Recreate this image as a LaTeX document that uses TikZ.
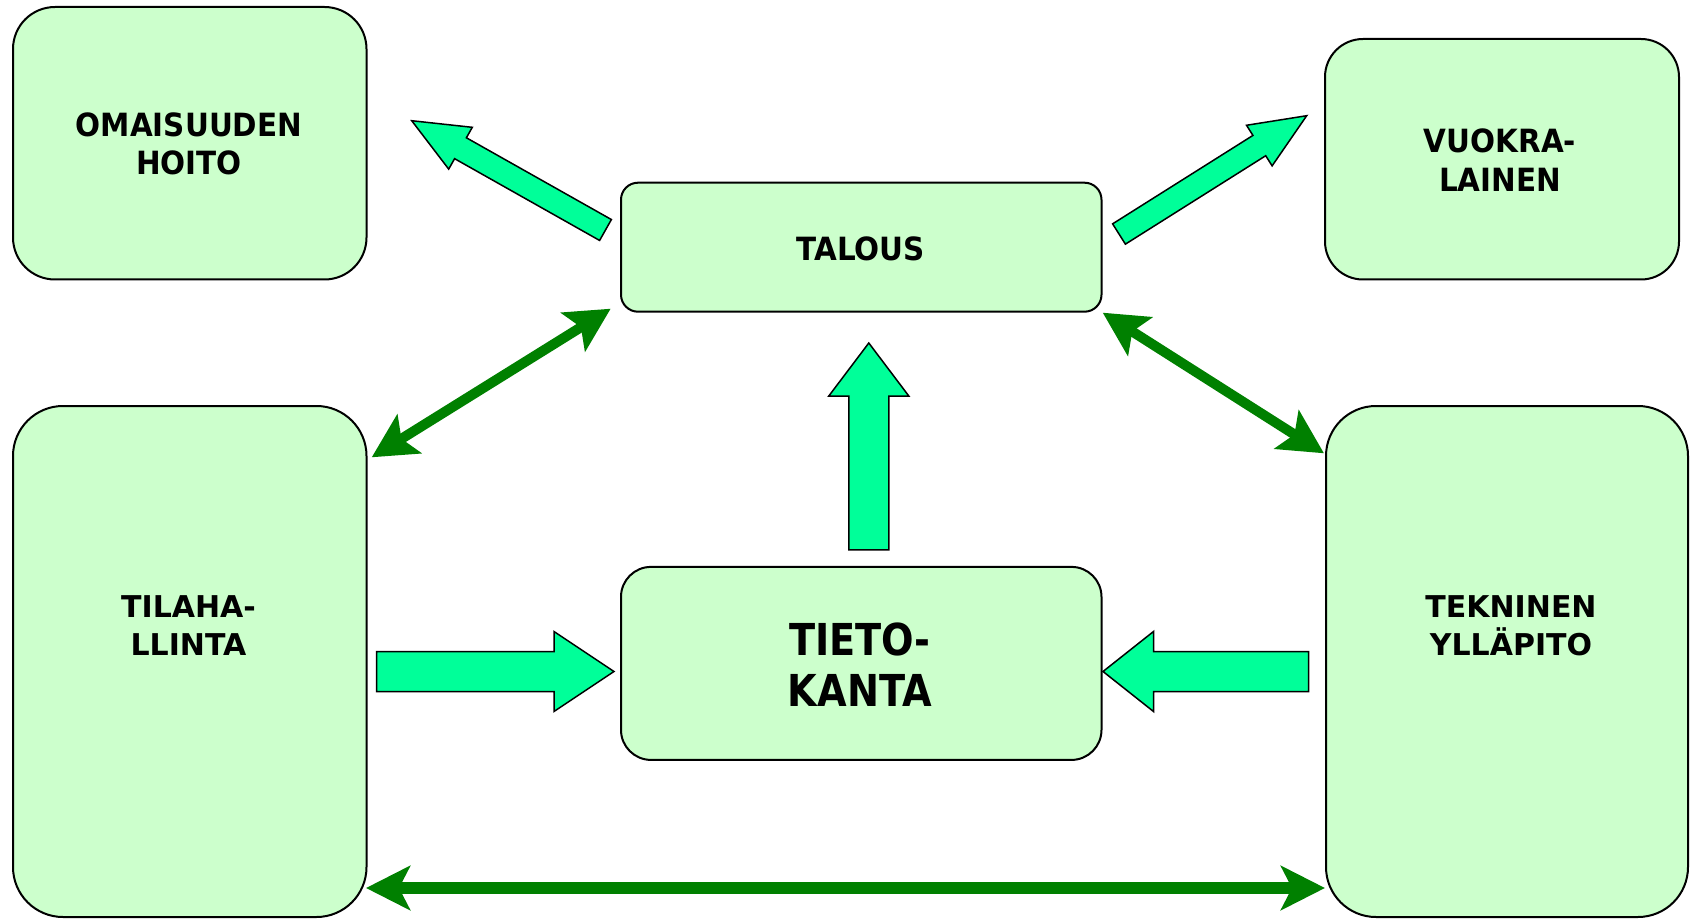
\documentclass[tikz,border=0pt]{standalone}
\usepackage{fontspec}
\setmainfont{DejaVu Sans}
\newfontfamily\narrowsans{DejaVu Sans}[FakeStretch=0.92]
\newfontfamily\narrowersans{DejaVu Sans}[FakeStretch=0.87]
\usetikzlibrary{arrows.meta,calc}

\definecolor{boxfill}{HTML}{CCFFCC}
\definecolor{flowfill}{HTML}{00FF99}
\definecolor{linkgreen}{HTML}{008000}

\tikzset{
  unit/.style={draw=black, line width=2pt, fill=boxfill, inner sep=0pt,
    rounded corners=#1pt},
  sidetext/.style={font=\bfseries\fontsize{30}{38}\selectfont, align=center, inner sep=0pt},
  toptext/.style={font=\narrowsans\bfseries\fontsize{32}{38.3}\selectfont, align=center, inner sep=0pt},
  hubtext/.style={font=\narrowersans\bfseries\fontsize{44}{51}\selectfont, align=center, inner sep=0pt},
  flow/.style={draw=black, line width=1.5pt, fill=flowfill, line join=miter},
  link/.style={draw=linkgreen, line width=10pt,
    >={Stealth[length=44pt,width=45pt,inset=9pt]}, <->},
  widelink/.style={link, line width=12pt,
    >={Stealth[length=44pt,width=44pt,inset=11pt]}},
}

% block arrow: tail, tip, half shaft width, half head width, head length
\newcommand{\flowarrow}[5]{%
  \draw[flow] let \p1=(#1), \p2=(#2),
      \n1={atan2(\y2-\y1,\x2-\x1)}, \n2={veclen(\x2-\x1,\y2-\y1)} in
    [shift={(\p1)}, rotate=\n1]
    (0pt,-#3pt) -- (\n2-#5pt,-#3pt) -- (\n2-#5pt,-#4pt) -- (\n2,0pt)
    -- (\n2-#5pt,#4pt) -- (\n2-#5pt,#3pt) -- (0pt,#3pt) -- cycle;}

\begin{document}
\begin{tikzpicture}[x=1pt,y=-1pt]
\useasboundingbox (0,0) rectangle (1690,920);

% units
\node[unit=42, minimum width=353.5pt, minimum height=272.5pt] (omai) at (189.75,143.25) {};
\node[unit=38, minimum width=354pt, minimum height=240.5pt] (vuok) at (1502,159.25) {};
\node[unit=17, minimum width=480.5pt, minimum height=129pt] (talo) at (861.25,247.2) {};
\node[unit=30, minimum width=480.5pt, minimum height=193pt] (tieto) at (861.25,663.4) {};
\node[unit=50, minimum width=353.5pt, minimum height=511pt] (tila) at (189.75,661.5) {};
\node[unit=50, minimum width=362pt, minimum height=511pt] (tekn) at (1507,661.5) {};

% captions
\node[toptext] (omai-t) at (189,144.2) {OMAISUUDEN\\HOITO};
\node[toptext] (vuok-t) at (1500,160.2) {VUOKRA-\\LAINEN};
\node[toptext] (talo-t) at (860.7,248.7) {TALOUS};
\node[hubtext] (tieto-t) at (860,665) {TIETO-\\KANTA};
\node[sidetext] (tila-t) at (188.5,625.5) {TILAHA-\\LLINTA};
\node[sidetext] (tekn-t) at (1511,625.5) {TEKNINEN\\YLLÄPITO};

% ends of the block arrows
\coordinate (fa-tail) at ($(talo.west)+(-14.5,-17.2)$);
\coordinate (fa-tip)  at ($(omai.east)+(44.2,-22.55)$);
\coordinate (fb-tail) at ($(talo.east)+(16.5,-13.2)$);
\coordinate (fb-tip)  at ($(vuok.west)+(-17.3,-43.55)$);
\coordinate (fc-tail) at ($(tieto.north)+(7.55,-16)$);
\coordinate (fc-tip)  at ($(talo.south)+(7.55,30.3)$);
\coordinate (fd-tail) at ($(tila.east)+(9,10)$);
\coordinate (fd-tip)  at ($(tieto.west)+(-6,8.1)$);
\coordinate (fe-tail) at ($(tekn.west)+(-16.3,10)$);
\coordinate (fe-tip)  at ($(tieto.east)+(0.5,8.1)$);

\flowarrow{fa-tail}{fa-tip}{12}{24}{56}
\flowarrow{fb-tail}{fb-tip}{12}{24}{56}
\flowarrow{fc-tail}{fc-tip}{20}{40}{53}
\flowarrow{fd-tail}{fd-tip}{20}{40}{60}
\flowarrow{fe-tail}{fe-tip}{20}{40}{50.5}

% two-way links
\coordinate (la-1) at ($(tila.north east)+(4.2,52.3)$);
\coordinate (la-2) at ($(talo.south west)+(-9.3,-4)$);
\coordinate (lb-1) at ($(talo.south east)+(0.2,0)$);
\coordinate (lb-2) at ($(tekn.north west)+(-1,48.3)$);
\coordinate (lc-1) at ($(tila.south east)+(-1.5,-30)$);
\coordinate (lc-2) at ($(tekn.south west)+(0,-30)$);

\draw[link] (la-1) -- (la-2);
\draw[link] (lb-1) -- (lb-2);
\draw[widelink] (lc-1) -- (lc-2);
\end{tikzpicture}
\end{document}
